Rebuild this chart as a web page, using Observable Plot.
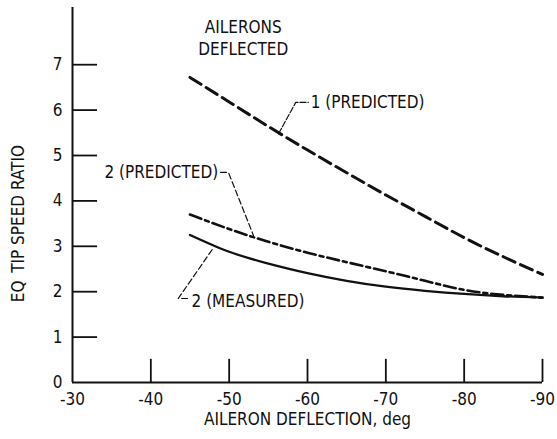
<!DOCTYPE html>
<html><head><meta charset="utf-8">
<script src="https://cdn.jsdelivr.net/npm/d3@7"></script>
<script src="https://cdn.jsdelivr.net/npm/@observablehq/plot@0.6"></script>
<style>
body{margin:0;background:#fff;}
svg text{font-family:"DejaVu Sans Condensed","Liberation Sans Narrow",sans-serif;font-stretch:condensed;}
</style>
</head><body><div id="chart"></div>
<script>
const deflection = [-45, -50, -55, -60, -65, -70, -75, -80, -85, -90];
const pred1 = [6.72, 6.18, 5.64, 5.12, 4.62, 4.13, 3.66, 3.19, 2.77, 2.38];
const pred2 = [3.70, 3.38, 3.10, 2.86, 2.65, 2.45, 2.24, 2.04, 1.93, 1.87];
const meas2 = [3.25, 2.88, 2.62, 2.41, 2.24, 2.11, 2.02, 1.95, 1.90, 1.87];
const xTicks = [-30, -40, -50, -60, -70, -80, -90];
const yTicks = [0, 1, 2, 3, 4, 5, 6, 7];

const toRows = vals => deflection.map((x, i) => ({x, y: vals[i]}));

const leader1 = [{x: -56.3, y: 5.48}, {x: -58.5, y: 6.17}, {x: -60.1, y: 6.17}];
const leader2p = [{x: -48.9, y: 4.63}, {x: -49.9, y: 4.63}, {x: -50.2, y: 4.50}, {x: -53.1, y: 3.24}];
const leader2m = [{x: -44.7, y: 1.85}, {x: -43.5, y: 1.85}, {x: -48.0, y: 2.97}];

const fs = 17;
const chart = Plot.plot({
  width: 557, height: 439,
  marginLeft: 72, marginRight: 15, marginTop: 7, marginBottom: 57,
  style: {fontSize: fs + "px", color: "#111"},
  x: {domain: [-30, -90], ticks: xTicks, tickFormat: d => String(d)},
  y: {domain: [0, 8.26], ticks: yTicks},
  marks: [
    Plot.axisX({ticks: xTicks, tickSize: 0, tickPadding: 10, tickFormat: d => String(d), label: null, fontSize: fs}),
    Plot.axisY({ticks: yTicks, tickSize: 0, tickPadding: 10, label: null, fontSize: fs}),
    Plot.ruleX([-30], {y1: 0, y2: 8.26, stroke: "#111", strokeWidth: 2}),
    Plot.ruleY([0], {x1: -30, x2: -90, stroke: "#111", strokeWidth: 2}),
    Plot.ruleY(yTicks.filter(d => d > 0), {x1: -30, x2: -33.2, stroke: "#111", strokeWidth: 1.8}),
    Plot.ruleX(xTicks.filter(d => d < -30), {y1: 0, y2: 0.51, stroke: "#111", strokeWidth: 1.8}),
    Plot.line(toRows(pred1), {x: "x", y: "y", curve: "natural", stroke: "#111", strokeWidth: 3, strokeDasharray: "13,6"}),
    Plot.line(toRows(pred2), {x: "x", y: "y", curve: "natural", stroke: "#111", strokeWidth: 2.6, strokeDasharray: "12,4,4,4"}),
    Plot.line(toRows(meas2), {x: "x", y: "y", curve: "natural", stroke: "#111", strokeWidth: 2.3}),
    Plot.line(leader1, {x: "x", y: "y", stroke: "#111", strokeWidth: 1.2, strokeDasharray: "6,2"}),
    Plot.line(leader2p, {x: "x", y: "y", stroke: "#111", strokeWidth: 1.2, strokeDasharray: "6,3"}),
    Plot.line(leader2m, {x: "x", y: "y", stroke: "#111", strokeWidth: 1.2, strokeDasharray: "6,3"}),
    Plot.text([{x: -51.8, y: 7.62, t: "AILERONS\nDEFLECTED"}], {x: "x", y: "y", text: "t", fontSize: fs, lineHeight: 1.3, fill: "#111"}),
    Plot.text([{x: -60.4, y: 6.17, t: "1 (PREDICTED)"}], {x: "x", y: "y", text: "t", textAnchor: "start", fontSize: fs, fill: "#111"}),
    Plot.text([{x: -48.6, y: 4.63, t: "2 (PREDICTED)"}], {x: "x", y: "y", text: "t", textAnchor: "end", fontSize: fs, fill: "#111"}),
    Plot.text([{x: -45.2, y: 1.78, t: "2 (MEASURED)"}], {x: "x", y: "y", text: "t", textAnchor: "start", fontSize: fs, fill: "#111"}),
    Plot.text([{x: -60, t: "AILERON DEFLECTION, deg"}], {x: "x", text: "t", frameAnchor: "bottom", lineAnchor: "middle", dy: 37, textAnchor: "middle", fontSize: fs, fill: "#111"}),
    Plot.text([{y: 3.5, t: "EQ\u2002TIP SPEED RATIO"}], {y: "y", text: "t", frameAnchor: "left", dx: -54, rotate: -90, textAnchor: "middle", fontSize: fs, fill: "#111"})
  ]
});
document.getElementById("chart").appendChild(chart);
</script>
</body></html>
